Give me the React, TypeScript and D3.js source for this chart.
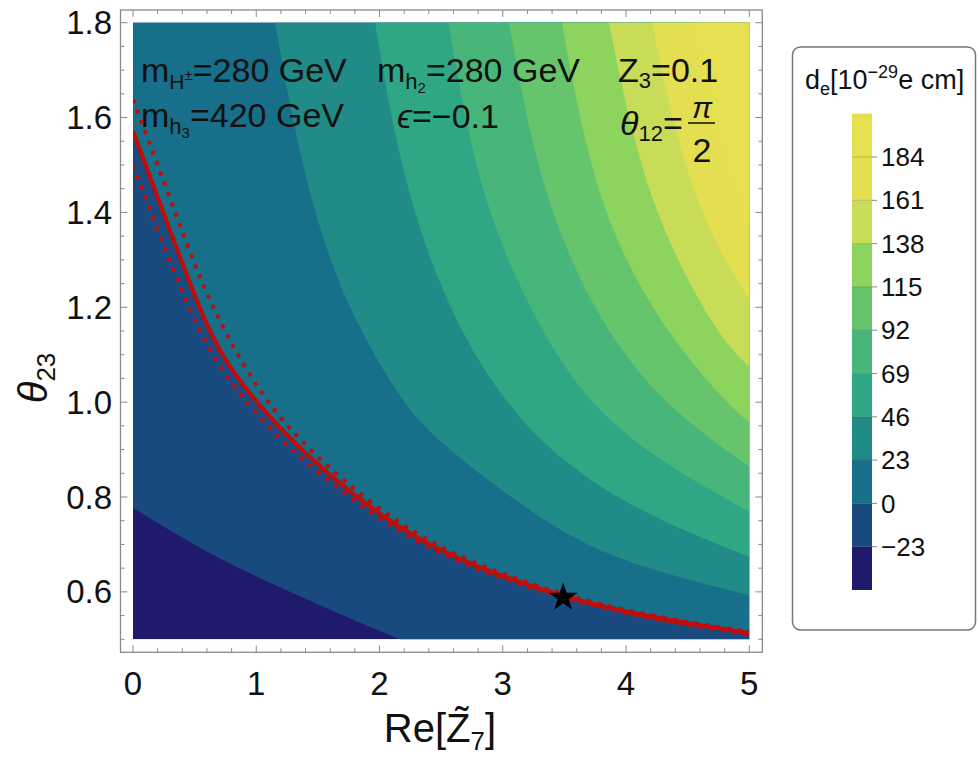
import React from "react";
import * as d3 from "d3";

type P = [number, number];

// contour levels of d_e [10^-29 e cm]
const levels = [-23, 0, 23, 46, 69, 92, 115, 138, 161, 184];
const levelLabels = ["\u221223", "0", "23", "46", "69", "92", "115", "138", "161", "184"];
const bandColors = [
  "#1f1a6b", "#184a80", "#176f89", "#208b87", "#30a784", "#48b67a",
  "#66c46c", "#8dd45f", "#c9dc58", "#e4de51", "#e6df50",
];

// contour lines: [Re Z7, theta23]
const cM23: P[] = [[0, 0.777], [0.25, 0.737], [0.5, 0.699], [0.75, 0.664], [1.0, 0.632], [1.36, 0.59], [1.76, 0.543], [2.17, 0.5]];
const c0: P[] = [[0, 1.571], [0.15, 1.467], [0.3, 1.362], [0.45, 1.258], [0.6, 1.16], [0.75, 1.085], [1.0, 0.999], [1.356, 0.899], [1.897, 0.78], [2.41, 0.695], [2.95, 0.636], [3.49, 0.59], [4.03, 0.555], [4.575, 0.53], [5.0, 0.513]];
const c23: P[] = [[1.153, 1.8], [1.29, 1.6], [1.45, 1.42], [1.6, 1.3], [1.8, 1.17], [2.2, 0.99], [2.49, 0.915], [3.0, 0.81], [3.62, 0.7], [4.3, 0.638], [5.0, 0.593]];
const c46: P[] = [[1.964, 1.8], [2.12, 1.56], [2.32, 1.36], [2.627, 1.16], [3.036, 0.99], [3.5, 0.87], [4.1, 0.77], [4.79, 0.695], [5.0, 0.674]];
const c69: P[] = [[2.56, 1.8], [2.72, 1.56], [2.93, 1.36], [3.3, 1.153], [3.71, 0.99], [4.3, 0.87], [5.0, 0.769]];
const c92: P[] = [[3.05, 1.8], [3.22, 1.56], [3.44, 1.36], [3.82, 1.153], [4.32, 0.99], [5.0, 0.864]];
const c115: P[] = [[3.48, 1.8], [3.65, 1.56], [3.87, 1.36], [4.3, 1.153], [4.84, 0.99], [5.0, 0.959]];
const c138: P[] = [[3.86, 1.8], [4.05, 1.56], [4.29, 1.36], [4.74, 1.14], [5.0, 1.075]];
const c161: P[] = [[4.21, 1.8], [4.4, 1.56], [4.66, 1.36], [5.0, 1.216]];
const c184: P[] = [[4.53, 1.8], [4.68, 1.6], [4.85, 1.45], [5.0, 1.38]];
const contours: P[][] = [cM23, c0, c23, c46, c69, c92, c115, c138, c161, c184];

// experimental band (dotted) around d_e = 0
const boundUpper: P[] = [[0, 1.638], [0.3, 1.432], [0.6, 1.215], [1.0, 1.027], [1.356, 0.916], [1.897, 0.791], [2.41, 0.702], [2.95, 0.641], [3.49, 0.594], [4.03, 0.558], [4.575, 0.533], [5.0, 0.516]];
const boundLower: P[] = [[0, 1.5], [0.3, 1.295], [0.6, 1.105], [1.0, 0.972], [1.356, 0.882], [1.897, 0.769], [2.41, 0.688], [2.95, 0.631], [3.49, 0.586], [4.03, 0.552], [4.575, 0.527], [5.0, 0.51]];

const benchmark: P = [3.49, 0.588];

const xTicks = [0, 1, 2, 3, 4, 5];
const yTicks = [0.6, 0.8, 1.0, 1.2, 1.4, 1.6, 1.8];

const W = 979, H = 757;
const FONT = "'Liberation Sans', Arial, Helvetica, sans-serif";

export default function App() {
  const x = d3.scaleLinear().domain([0, 5]).range([133, 749.3]);
  const y = d3.scaleLinear().domain([0.5, 1.8]).range([639.3, 22.7]);
  const frame = { l: 120.5, t: 10, r: 762.3, b: 652.3 };
  const curve = d3.line<P>().x((d) => x(d[0])).y((d) => y(d[1])).curve(d3.curveBasis);

  const bandPath = (pts: P[]) => {
    const s = pts[0], e = pts[pts.length - 1];
    return (
      curve(pts) +
      `L${x(e[0])},${y(-1)}L${x(7)},${y(-1)}L${x(7)},${y(4)}L${x(s[0])},${y(4)}Z`
    );
  };

  const xMinor = d3.range(0, 5.001, 0.2);
  const yMinor = d3.range(0.5, 1.8001, 0.05);
  const isMajorX = (v: number) => Math.abs(v - Math.round(v)) < 1e-6;
  const isMajorY = (v: number) => yTicks.some((t) => Math.abs(t - v) < 1e-6);

  const tickColor = "#8a8a8a";
  const red = "#c00d0a";

  // legend
  const lg = { x: 852, w: 20, top: 113.7, bottom: 590 };
  const nb = bandColors.length;
  const bh = (lg.bottom - lg.top) / nb;

  return (
    <svg width={W} height={H} style={{ position: "absolute", left: 0, top: 0, background: "#fff" }} fontFamily={FONT}>
      <defs>
        <clipPath id="plotclip">
          <rect x={x(0)} y={y(1.8)} width={x(5) - x(0)} height={y(0.5) - y(1.8)} />
        </clipPath>
      </defs>
      <g clipPath="url(#plotclip)">
        <rect x={x(0)} y={y(1.8)} width={x(5) - x(0)} height={y(0.5) - y(1.8)} fill={bandColors[0]} />
        {contours.map((c, i) => (
          <path key={i} d={bandPath(c)} fill={bandColors[i + 1]} />
        ))}
        <path d={curve(boundUpper) || ""} fill="none" stroke={red} strokeWidth={4} strokeDasharray="4 7" />
        <path d={curve(boundLower) || ""} fill="none" stroke={red} strokeWidth={4} strokeDasharray="4 7" />
        <path d={curve(c0) || ""} fill="none" stroke={red} strokeWidth={4.2} />
        <path
          d={d3.symbol(d3.symbolStar, 260)() || ""}
          transform={`translate(${x(benchmark[0])},${y(benchmark[1])})`}
          fill="#000"
        />
      </g>

      {/* frame */}
      <rect x={frame.l} y={frame.t} width={frame.r - frame.l} height={frame.b - frame.t} fill="none" stroke={tickColor} strokeWidth={1.3} />
      {xMinor.map((v, i) => {
        const L = isMajorX(v) ? 7 : 4;
        return (
          <g key={"xt" + i} stroke={tickColor} strokeWidth={1}>
            <line x1={x(v)} x2={x(v)} y1={frame.b} y2={frame.b - L} />
            <line x1={x(v)} x2={x(v)} y1={frame.t} y2={frame.t + L} />
          </g>
        );
      })}
      {yMinor.map((v, i) => {
        const L = isMajorY(v) ? 7 : 4;
        return (
          <g key={"yt" + i} stroke={tickColor} strokeWidth={1}>
            <line x1={frame.l} x2={frame.l + L} y1={y(v)} y2={y(v)} />
            <line x1={frame.r} x2={frame.r - L} y1={y(v)} y2={y(v)} />
          </g>
        );
      })}
      {xTicks.map((v) => (
        <text key={"xl" + v} x={x(v)} y={695} fontSize={33} textAnchor="middle" fill="#111">
          {v}
        </text>
      ))}
      {yTicks.map((v) => (
        <text key={"yl" + v} x={112} y={y(v)} dy="0.35em" fontSize={33} textAnchor="end" fill="#111">
          {d3.format(".1f")(v)}
        </text>
      ))}

      {/* axis labels */}
      <text x={440} y={742} fontSize={40} textAnchor="middle" fill="#111">
        {"Re[Z\u0303"}
        <tspan fontSize={26} dy={8}>7</tspan>
        <tspan dy={-8}>]</tspan>
      </text>
      <text transform="translate(47,378) rotate(-90)" fontSize={40} textAnchor="middle" fill="#111">
        <tspan fontStyle="italic">θ</tspan>
        <tspan fontSize={26} dy={8}>23</tspan>
      </text>

      {/* annotations */}
      <g fontSize={34} fill="#111">
        <text x={141} y={82}>
          m<tspan fontSize={21} dy={7}>H</tspan>
          <tspan fontSize={15} dy={-9}>±</tspan>
          <tspan dy={2}>=280 GeV</tspan>
        </text>
        <text x={377} y={82}>
          m<tspan fontSize={22} dy={7}>h</tspan>
          <tspan fontSize={15} dy={4}>2</tspan>
          <tspan dy={-11}>=280 GeV</tspan>
        </text>
        <text x={618} y={82}>
          Z<tspan fontSize={22} dy={6}>3</tspan>
          <tspan dy={-6}>=0.1</tspan>
        </text>
        <text x={141} y={127}>
          m<tspan fontSize={22} dy={7}>h</tspan>
          <tspan fontSize={15} dy={4}>3</tspan>
          <tspan dy={-11}>=420 GeV</tspan>
        </text>
        <text x={397} y={128}>
          <tspan fontStyle="italic">ϵ</tspan>=−0.1
        </text>
        <text x={620} y={135}>
          <tspan fontStyle="italic">θ</tspan>
          <tspan fontSize={22} dy={6}>12</tspan>
          <tspan dy={-6}>=</tspan>
        </text>
      </g>
      <text x={702} y={118} fontSize={30} textAnchor="middle" fontStyle="italic" fill="#111">π</text>
      <line x1={688} x2={715} y1={123} y2={123} stroke="#111" strokeWidth={1.5} />
      <text x={702} y={162} fontSize={34} textAnchor="middle" fill="#111">2</text>

      {/* legend */}
      <rect x={792.5} y={47} width={183} height={583} rx={8} fill="#fff" stroke="#777" strokeWidth={1.5} />
      <text x={805} y={89} fontSize={27} fill="#111">
        d<tspan fontSize={18} dy={6}>e</tspan>
        <tspan dy={-6}>[10</tspan>
        <tspan fontSize={18} dy={-11}>−29</tspan>
        <tspan dy={11}>e cm]</tspan>
      </text>
      {bandColors.map((c, i) => (
        <rect key={"lb" + i} x={lg.x} y={lg.bottom - (i + 1) * bh} width={lg.w} height={bh} fill={c} />
      ))}
      {levels.map((v, i) => {
        const yy = lg.bottom - (i + 1) * bh;
        return (
          <g key={"ll" + i}>
            <line x1={lg.x} x2={lg.x + lg.w} y1={yy} y2={yy} stroke="rgba(0,0,0,0.18)" strokeWidth={1} />
            <line x1={lg.x + lg.w} x2={lg.x + lg.w + 5} y1={yy} y2={yy} stroke="#888" strokeWidth={1} />
            <text x={lg.x + lg.w + 9} y={yy} dy="0.35em" fontSize={26} fill="#111">
              {levelLabels[i]}
            </text>
          </g>
        );
      })}
    </svg>
  );
}
